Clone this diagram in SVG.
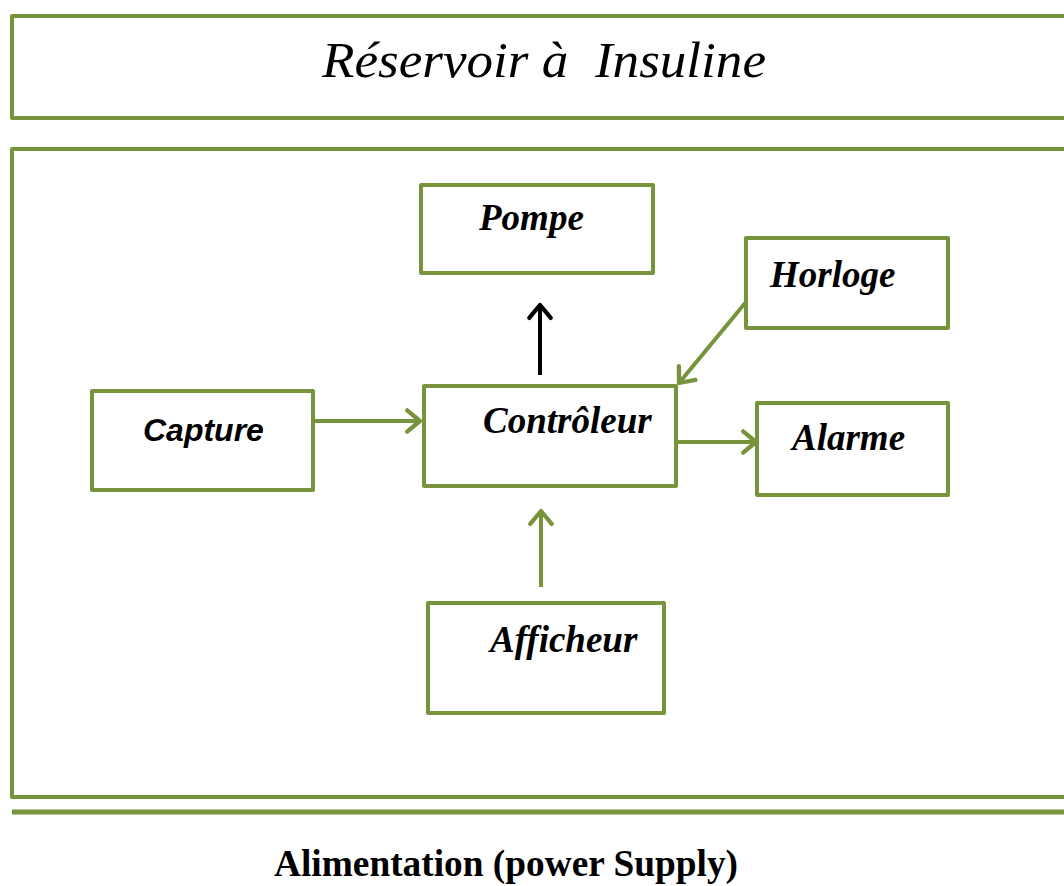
<svg xmlns="http://www.w3.org/2000/svg" width="1064" height="886" viewBox="0 0 1064 886">
<style>
.box{fill:#fff;stroke:#77933C;stroke-width:4;stroke-linejoin:round}
.lbl{font-family:"Liberation Serif","Times New Roman",serif;font-weight:bold;font-style:italic;font-size:37px;fill:#000}
.sans{font-family:"Liberation Sans",Arial,sans-serif;font-weight:bold;font-style:italic;font-size:32px;fill:#000}
.conn{stroke:#77933C;stroke-width:4;fill:none}
</style>
<defs>
<marker id="ag" markerUnits="userSpaceOnUse" markerWidth="30" markerHeight="30" viewBox="-16 -14 20 28" refX="0" refY="0" orient="auto">
<path d="M-12,-10 L0,0 L-12,10" fill="none" stroke="#77933C" stroke-width="4" stroke-linecap="round" stroke-linejoin="round"/>
</marker>
<marker id="ab" markerUnits="userSpaceOnUse" markerWidth="30" markerHeight="30" viewBox="-16 -14 20 28" refX="0" refY="0" orient="auto">
<path d="M-12,-10 L0,0 L-12,10" fill="none" stroke="#000" stroke-width="4" stroke-linecap="round" stroke-linejoin="round"/>
</marker>
</defs>
<rect width="1064" height="886" fill="#fff"/>
<g id="reservoir">
<rect class="box" x="12" y="16" width="1060" height="102"/>
<text x="322" y="77" font-family="'Liberation Serif','Times New Roman',serif" font-style="italic" font-size="50" textLength="444" lengthAdjust="spacingAndGlyphs" xml:space="preserve">Réservoir à  Insuline</text>
</g>
<g id="system">
<rect class="box" x="12" y="149" width="1060" height="648"/>
</g>
<g id="power-line">
<line x1="12" y1="812" x2="1064" y2="812" stroke="#77933C" stroke-width="5"/>
</g>
<g id="pompe">
<rect class="box" x="421" y="185" width="232" height="88"/>
<text class="lbl" x="479" y="230">Pompe</text>
</g>
<g id="horloge">
<rect class="box" x="746" y="238" width="202" height="90"/>
<text class="lbl" x="770" y="287">Horloge</text>
</g>
<g id="capture">
<rect class="box" x="92" y="391" width="221" height="99"/>
<text class="sans" x="143" y="441">Capture</text>
</g>
<g id="controleur">
<rect class="box" x="424" y="386" width="252" height="100"/>
<text class="lbl" x="483" y="433">Contrôleur</text>
</g>
<g id="alarme">
<rect class="box" x="757" y="403" width="191" height="92"/>
<text class="lbl" x="792" y="450">Alarme</text>
</g>
<g id="afficheur">
<rect class="box" x="428" y="603" width="236" height="110"/>
<text class="lbl" x="490" y="652">Afficheur</text>
</g>
<text x="274" y="876" font-family="'Liberation Serif','Times New Roman',serif" font-weight="bold" font-size="38" textLength="464" lengthAdjust="spacingAndGlyphs">Alimentation (power Supply)</text>
<g id="connectors">
<line x1="540" y1="375" x2="540" y2="305" stroke="#000" stroke-width="4" marker-end="url(#ab)"/>
<line class="conn" x1="314" y1="421" x2="420" y2="421" marker-end="url(#ag)"/>
<line class="conn" x1="746" y1="302" x2="679" y2="383" marker-end="url(#ag)"/>
<line class="conn" x1="677" y1="442" x2="756" y2="442" marker-end="url(#ag)"/>
<line class="conn" x1="541" y1="587" x2="541" y2="511" marker-end="url(#ag)"/>
</g>
</svg>
